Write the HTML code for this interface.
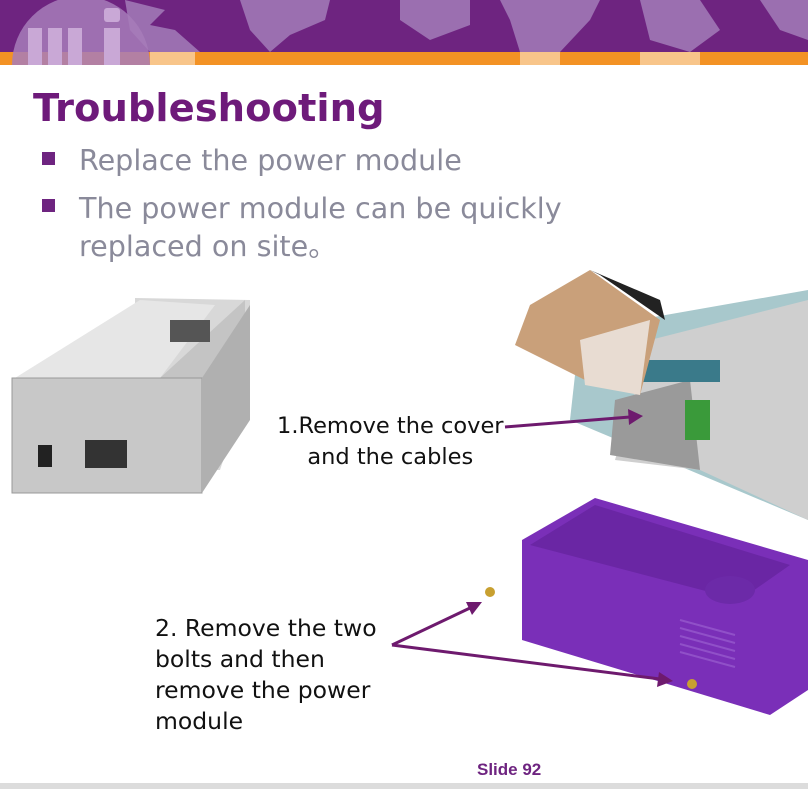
<!DOCTYPE html>
<html><head><meta charset="utf-8"><style>
body{margin:0;width:808px;height:789px;overflow:hidden;background:#fff;font-family:"DejaVu Sans","Liberation Sans",sans-serif;position:relative}
.t{position:absolute;white-space:nowrap}
</style></head><body>
<svg width="808" height="789" style="position:absolute;left:0;top:0">
<rect x="0" y="0" width="808" height="52" fill="#6e2480"/>
<rect x="0" y="52" width="808" height="13" fill="#f39224"/>
<g fill="#9b6fb0">
<path d="M125 0 L165 10 L150 25 L175 30 L200 52 L150 52 L130 30Z"/>
<path d="M240 0 L330 0 L325 20 L290 35 L270 52 L250 30 Z"/>
<path d="M400 0 L470 0 L470 25 L430 40 L400 20Z"/>
<path d="M500 0 L600 0 L590 20 L560 52 L520 52 L510 20Z"/>
<path d="M640 0 L700 0 L720 30 L690 52 L650 40Z"/>
<path d="M760 0 L808 0 L808 40 L780 30Z"/>
</g>
<g fill="#f8c58a"><rect x="150" y="52" width="45" height="13"/><rect x="520" y="52" width="40" height="13"/><rect x="640" y="52" width="60" height="13"/></g>
<path d="M12 65 A65 65 0 0 1 150 65Z" fill="#a77cba" opacity="0.85"/>
<g fill="#c9a8d6"><rect x="28" y="28" width="14" height="37"/><rect x="48" y="28" width="14" height="37"/><rect x="68" y="28" width="14" height="37"/><rect x="104" y="28" width="16" height="37"/><rect x="104" y="8" width="16" height="14" rx="3"/></g>
<rect x="0" y="783" width="808" height="6" fill="#dcdcdc"/>
<rect x="42" y="152" width="13" height="13" fill="#6e2480"/>
<rect x="42" y="199" width="13" height="13" fill="#6e2480"/>
<polygon points="135,298 250,300 250,380 220,470 135,470" fill="#d8d8d8"/>
<polygon points="15,378 160,378 245,300 245,385 200,480 15,480" fill="#c4c4c4"/>
<polygon points="15,378 140,300 215,305 160,378" fill="#e6e6e6"/>
<rect x="12" y="378" width="190" height="115" fill="#c8c8c8" stroke="#999"/>
<polygon points="202,378 250,305 250,420 202,493" fill="#b0b0b0"/>
<rect x="38" y="445" width="14" height="22" fill="#222"/>
<rect x="85" y="440" width="42" height="28" fill="#333"/>
<rect x="170" y="320" width="40" height="22" fill="#555"/>
<polygon points="580,330 808,290 808,520 570,420" fill="#a8c8cc"/>
<polygon points="650,340 808,300 808,520 700,470 615,460" fill="#cfcfcf"/>
<polygon points="615,400 690,380 700,470 610,455" fill="#9a9a9a"/>
<rect x="640" y="360" width="80" height="22" fill="#3a7a8a"/>
<rect x="685" y="400" width="25" height="40" fill="#3a9a3a"/>
<polygon points="530,305 590,270 660,320 640,395 585,380 515,345" fill="#c9a07a"/>
<polygon points="590,270 660,300 665,320 600,275" fill="#222"/>
<polygon points="580,340 650,320 640,395 585,385" fill="#e8dcd2"/>
<polygon points="522,540 595,498 808,560 808,690 770,715 522,640" fill="#7a2fb8"/>
<polygon points="530,545 595,505 790,565 740,600" fill="#6a26a4"/>
<g stroke="#9050c8" stroke-width="2"><line x1="680" y1="620" x2="735" y2="635"/><line x1="680" y1="628" x2="735" y2="643"/><line x1="680" y1="636" x2="735" y2="651"/><line x1="680" y1="644" x2="735" y2="659"/><line x1="680" y1="652" x2="735" y2="667"/></g>
<ellipse cx="730" cy="590" rx="25" ry="14" fill="#6c2aa8"/>
<circle cx="490" cy="592" r="5" fill="#c8a030"/>
<circle cx="692" cy="684" r="5" fill="#c8a030"/>
<g stroke="#6e1a6e" stroke-width="3" fill="#6e1a6e">
<line x1="505" y1="427" x2="630" y2="417"/>
<polygon points="643,416 628,409 629,425" stroke="none"/>
<line x1="392" y1="645" x2="470" y2="608"/>
<polygon points="482,602 466,602 472,615" stroke="none"/>
<line x1="392" y1="645" x2="660" y2="679"/>
<polygon points="673,681 659,672 657,687" stroke="none"/>
</g>
</svg>
<div class="t" style="left:33px;top:86px;font-size:38.5px;font-weight:bold;color:#6e1a7a">Troubleshooting</div>
<div class="t" style="left:79px;top:143px;font-size:28.6px;color:#8a8a9a">Replace the power module</div>
<div class="t" style="left:79px;top:189px;font-size:28.6px;color:#8a8a9a;line-height:38px">The power module can be quickly<br>replaced on site。</div>
<div class="t" style="left:277px;top:411px;font-size:22.5px;color:#111;text-align:center;line-height:31px">1.Remove the cover<br>and the cables</div>
<div class="t" style="left:155px;top:613px;font-size:23.5px;color:#111;line-height:31px">2. Remove the two<br>bolts and then<br>remove the power<br>module</div>
<div class="t" style="left:477px;top:760px;font-size:17px;font-weight:bold;color:#6e2480;font-family:'Liberation Sans',sans-serif">Slide 92</div>
</body></html>
